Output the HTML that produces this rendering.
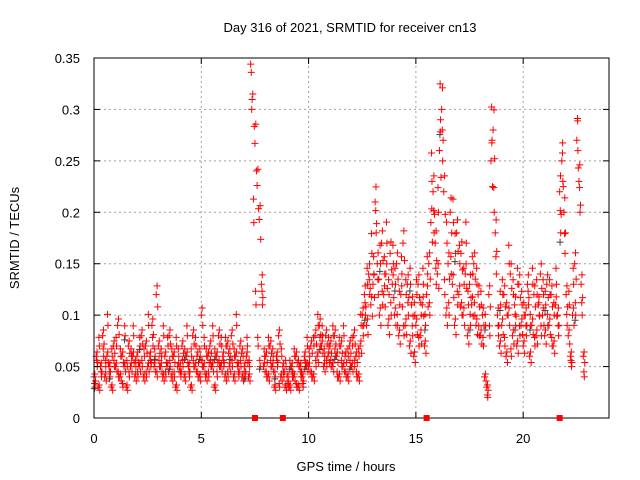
<!DOCTYPE html>
<html><head><meta charset="utf-8"><style>
body{margin:0;background:#fff}
svg{display:block;font-family:"Liberation Sans",sans-serif;font-size:13px}
</style></head><body>
<svg id="c" width="640" height="480">
<g id="grid"></g>
<g id="pts"></g>
<rect x="94" y="58" width="515" height="360" fill="none" stroke="#000"/>
<g id="axes"></g>
<text x="350" y="32" text-anchor="middle">Day 316 of 2021, SRMTID for receiver cn13</text>
<text x="346" y="471" text-anchor="middle">GPS time / hours</text>
<text transform="translate(19,238) rotate(-90)" text-anchor="middle">SRMTID / TECUs</text>
</svg>
<script>
const xTicks=[0,5,10,15,20];
const yTicks=[0,0.05,0.1,0.15,0.2,0.25,0.3,0.35];
const yTickLabels=["0","0.05","0.1","0.15","0.2","0.25","0.3","0.35"];
const stepHours=0.1;
const seriesA=[0.04,0.06,0.03,0.05,0.08,0.04,0.06,0.05,0.03,0.07,
0.05,0.09,0.04,0.06,0.05,0.03,0.07,0.05,0.06,0.04,
0.06,0.05,0.08,0.04,0.07,0.05,0.06,0.09,0.05,0.12,
0.07,0.05,0.04,0.06,0.05,0.08,0.04,0.06,0.03,0.05,
0.05,0.07,0.04,0.06,0.05,0.03,0.08,0.05,0.06,0.04,
0.1,0.05,0.04,0.06,0.07,0.05,0.03,0.06,0.08,0.05,
0.06,0.04,0.07,0.05,0.08,0.04,0.06,0.05,0.07,0.04,
0.05,0.06,0.04,0.344,0.315,0.267,0.226,0.193,0.13,0.05,
0.06,0.04,0.07,0.05,0.03,0.06,0.08,0.04,0.05,0.03,
0.04,0.03,0.05,0.04,0.06,0.03,0.05,0.04,0.06,0.05,
0.05,0.07,0.04,0.08,0.06,0.09,0.07,0.05,0.08,0.06,
0.07,0.05,0.08,0.06,0.04,0.07,0.05,0.06,0.04,0.07,
0.05,0.08,0.06,0.04,0.07,0.1,0.12,0.09,0.14,0.11,
0.13,0.21,0.15,0.1,0.17,0.12,0.14,0.09,0.16,0.13,
0.1,0.15,0.08,0.12,0.17,0.09,0.13,0.07,0.11,0.06,
0.09,0.13,0.08,0.11,0.07,0.12,0.15,0.19,0.22,0.17,
0.14,0.26,0.3,0.22,0.1,0.15,0.2,0.13,0.09,0.18,
0.12,0.16,0.1,0.14,0.08,0.13,0.11,0.15,0.09,0.12,
0.08,0.1,0.04,0.03,0.12,0.25,0.28,0.18,0.1,0.07,
0.09,0.12,0.06,0.1,0.14,0.08,0.11,0.07,0.13,0.09,
0.07,0.1,0.13,0.06,0.09,0.12,0.08,0.11,0.14,0.1,
0.08,0.13,0.09,0.12,0.07,0.11,0.1,0.22,0.25,0.2,
0.12,0.08,0.06,0.1,0.15,0.27,0.23,0.13,0.06];
const seriesB=[0.03,0.05,0.07,0.04,0.06,0.05,0.09,0.04,0.06,0.05,
0.07,0.04,0.06,0.03,0.08,0.05,0.04,0.06,0.08,0.05,
0.04,0.07,0.05,0.06,0.04,0.09,0.05,0.07,0.06,0.04,
0.05,0.06,0.08,0.04,0.07,0.05,0.06,0.04,0.07,0.06,
0.04,0.05,0.06,0.08,0.04,0.06,0.05,0.07,0.04,0.06,
0.05,0.07,0.06,0.04,0.05,0.08,0.06,0.04,0.05,0.07,
0.05,0.07,0.04,0.06,0.05,0.06,0.09,0.04,0.05,0.06,
0.04,0.07,0.05,0.3,0.19,0.11,0.07,0.05,0.11,0.06,
0.04,0.07,0.05,0.06,0.04,0.05,0.03,0.06,0.04,0.05,
0.03,0.05,0.04,0.06,0.03,0.05,0.04,0.03,0.05,0.07,
0.06,0.04,0.07,0.05,0.09,0.07,0.08,0.06,0.05,0.07,
0.05,0.08,0.06,0.04,0.07,0.05,0.08,0.04,0.06,0.05,
0.07,0.05,0.04,0.06,0.09,0.08,0.1,0.13,0.12,0.16,
0.14,0.18,0.12,0.15,0.11,0.14,0.17,0.12,0.1,0.15,
0.13,0.09,0.11,0.14,0.08,0.12,0.1,0.13,0.08,0.1,
0.12,0.07,0.1,0.13,0.09,0.14,0.1,0.23,0.18,0.13,
0.2,0.29,0.25,0.12,0.17,0.1,0.14,0.19,0.16,0.11,
0.15,0.1,0.13,0.17,0.11,0.09,0.14,0.1,0.13,0.08,
0.11,0.07,0.09,0.02,0.08,0.27,0.2,0.14,0.08,0.11,
0.12,0.07,0.1,0.15,0.06,0.12,0.09,0.13,0.08,0.11,
0.1,0.08,0.11,0.09,0.13,0.07,0.12,0.1,0.08,0.12,
0.11,0.09,0.12,0.07,0.1,0.13,0.08,0.18,0.23,0.16,
0.09,0.11,0.05,0.13,0.1,0.26,0.2,0.1,0.04];
const markerHours=[7.5,8.8,15.5,21.7];
const NS="http://www.w3.org/2000/svg";
const X0=94,X1=609,Y0=418,Y1=58;
const xs=h=>X0+h/24*(X1-X0);
const ys=v=>Y0-v/0.35*(Y0-Y1);
function mk(tag,attrs,parent){const e=document.createElementNS(NS,tag);for(const k in attrs)e.setAttribute(k,attrs[k]);parent.appendChild(e);return e;}
const grid=document.getElementById('grid'),axes=document.getElementById('axes'),pts=document.getElementById('pts');
xTicks.forEach(t=>{const x=xs(t);
 if(t>0){const g=mk('line',{x1:x,x2:x,y1:Y0,y2:Y1,stroke:'#a0a0a0','stroke-dasharray':'2,3'},grid);
 
 }
 mk('line',{x1:x,x2:x,y1:Y0,y2:Y0-6,stroke:'#000'},axes);
 mk('line',{x1:x,x2:x,y1:Y1,y2:Y1+6,stroke:'#000'},axes);
 const l=mk('text',{x:x,y:Y0+25,'text-anchor':'middle'},axes);l.textContent=t;
 
 });
yTicks.forEach((t,i)=>{const y=ys(t);
 if(i>0&&i<yTicks.length-1){const g=mk('line',{x1:X0,x2:X1,y1:y,y2:y,stroke:'#a0a0a0','stroke-dasharray':'2,3'},grid);
 
 }
 mk('line',{x1:X0,x2:X0+6,y1:y,y2:y,stroke:'#000'},axes);
 mk('line',{x1:X1,x2:X1-6,y1:y,y2:y,stroke:'#000'},axes);
 const l=mk('text',{x:X0-14,y:y+5,'text-anchor':'end'},axes);l.textContent=yTickLabels[i];
 
 });
function plus(h,v,col){const x=xs(h),y=ys(v);
 const p=mk('path',{d:`M${x-3.5},${y}h7M${x},${y-3.5}v7`,stroke:col,'stroke-width':1,fill:'none'},pts);
 
 }
seriesB.forEach((v,i)=>plus(i*stepHours+0.05,v,'#ff0000'));
seriesA.forEach((v,i)=>plus(i*stepHours,v,'#ff0000'));
seriesB.forEach((v,i)=>{if(i%7===0)plus(i*stepHours+0.02,v*0.95,'#404040');});
seriesA.forEach((v,i)=>plus(i*stepHours+0.07,v*0.9,'#ff0000'));
seriesB.forEach((v,i)=>{if(v<=0.3)plus(i*stepHours+0.03,v*1.12,'#ff0000');});
seriesA.forEach((v,i)=>{if(v<=0.3)plus(i*stepHours+0.04,v*1.07,'#ff0000');});
markerHours.forEach(h=>{const r=mk('rect',{x:xs(h)-3,y:Y0-3,width:6,height:6,fill:'#ff0000'},axes);
 
 });
</script>
</body></html>
